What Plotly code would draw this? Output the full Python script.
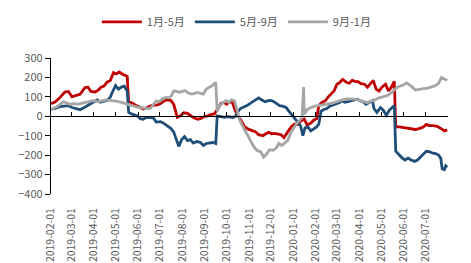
import pandas as pd
import plotly.graph_objects as go

START = "2019-02-01"

# Day offsets from 2019-02-01 and values
red_days = [0, 6, 12, 19, 24, 29, 35, 40, 47, 51, 55, 61, 65, 69, 73, 77, 82, 86, 90, 94, 98, 102, 105, 107,
            111, 118, 123, 127, 133, 137, 142, 147, 151, 155, 160, 165, 169, 171, 174, 178, 183, 188, 192, 196,
            202, 206, 212, 216, 221, 225, 230, 234, 238, 242, 246, 250, 254, 259, 263, 267, 272, 277, 282, 286,
            292, 296, 300, 304, 308, 313, 317, 321, 325, 328, 332, 336, 340, 344, 349, 353, 358, 362, 366, 369,
            373, 378, 382, 386, 390, 394, 398, 402, 407, 411, 415, 419, 423, 427, 432, 436, 440, 444, 448, 452,
            456, 461, 465, 469, 473, 475, 480, 485, 491, 496, 502, 508, 513, 517, 521, 527, 532, 538, 542, 546]
red_vals = [65, 75, 95, 125, 128, 100, 108, 113, 148, 150, 128, 125, 135, 150, 155, 175, 185, 225, 218, 228, 218, 210, 205, 75,
            70, 54, 45, 37, 45, 54, 58, 59, 65, 78, 85, 82, 62, 40, -5, 2, 18, 15, 3, -6,
            -15, -12, 0, 2, 10, 12, 40, 65, 72, 62, 75, 70, 28, -6, -30, -55, -66, -75, -80, -95,
            -100, -90, -82, -90, -88, -92, -95, -110, -85, -70, -50, -40, -42, -25, -15, -45, -35, -20, -12, 55,
            70, 80, 100, 115, 130, 165, 175, 190, 175, 170, 185, 180, 178, 168, 165, 150, 165, 185, 140, 130,
            150, 165, 130, 150, 180, -55, -55, -58, -60, -65, -68, -62, -55, -42, -48, -48, -52, -65, -75, -70]

blue_days = [0, 6, 12, 19, 24, 29, 35, 40, 46, 50, 55, 59, 64, 68, 73, 77, 82, 84, 89, 93, 97, 101, 105, 107,
             111, 115, 119, 123, 127, 131, 137, 141, 145, 151, 155, 160, 165, 169, 171, 174, 176, 180, 184, 188,
             192, 196, 201, 206, 210, 214, 219, 223, 227, 229, 234, 239, 245, 250, 254, 257, 261, 266, 270, 274,
             278, 282, 286, 290, 295, 299, 303, 307, 311, 315, 319, 324, 328, 332, 336, 340, 344, 347, 350, 354,
             358, 362, 366, 369, 372, 376, 380, 384, 389, 393, 397, 401, 405, 409, 414, 418, 422, 426, 430, 434,
             438, 443, 445, 449, 454, 458, 462, 466, 470, 473, 475, 480, 484, 488, 492, 496, 501, 505, 509, 513,
             517, 521, 526, 530, 534, 537, 539, 542, 544, 546]
blue_vals = [35, 40, 50, 55, 55, 45, 38, 34, 45, 55, 65, 75, 84, 72, 78, 80, 100, 120, 158, 140, 150, 155, 130, 20,
             12, 8, 2, -12, -15, -6, -6, -8, -30, -28, -35, -50, -62, -80, -100, -125, -155, -120, -105, -125,
             -120, -138, -130, -135, -150, -140, -138, -135, -140, 2, -2, -5, -2, -6, -2, 20, 40, 48, 55, 65,
             75, 85, 95, 85, 75, 80, 82, 75, 65, 55, 52, 45, 25, 8, -10, -30, -50, -100, -60, -55,
             -75, -65, -55, -40, 25, 35, 40, 52, 58, 62, 70, 80, 72, 75, 80, 85, 88, 80, 75, 62,
             70, 80, 40, 20, 45, 30, 5, 30, 45, 55, -180, -200, -215, -225, -215, -225, -232, -225, -210, -195,
             -180, -182, -190, -192, -200, -215, -270, -275, -255, -262]

gray_days = [0, 6, 12, 17, 21, 26, 32, 37, 43, 48, 54, 59, 65, 71, 76, 82, 87, 93, 98, 104, 109, 115, 120, 126,
             131, 137, 141, 145, 149, 154, 158, 162, 166, 169, 173, 177, 181, 185, 189, 194, 198, 202, 206, 210,
             214, 219, 223, 227, 229, 232, 236, 241, 245, 249, 253, 256, 260, 264, 268, 272, 277, 281, 285, 289,
             293, 297, 301, 306, 310, 314, 318, 322, 326, 331, 335, 339, 343, 346, 348, 349, 353, 358, 364, 369,
             375, 380, 386, 391, 397, 402, 408, 414, 419, 425, 430, 436, 441, 447, 452, 458, 463, 469, 474, 480,
             485, 490, 494, 498, 502, 508, 513, 519, 524, 530, 534, 538, 542, 546]
gray_vals = [35, 45, 60, 75, 70, 62, 65, 62, 68, 72, 78, 80, 75, 82, 84, 82, 80, 75, 70, 63, 55, 52, 46, 45,
             40, 42, 60, 78, 75, 90, 97, 95, 105, 130, 128, 123, 128, 132, 120, 114, 118, 123, 118, 114,
             140, 150, 160, 175, 25, 55, 68, 80, 72, 85, 80, 35, -20, -50, -75, -105, -140, -165, -178, -182,
             -210, -195, -172, -175, -165, -140, -150, -135, -125, -80, -55, -35, -20, -5, 150, 10, 35, 45, 52, 55,
             56, 62, 66, 72, 80, 85, 90, 90, 88, 82, 75, 70, 78, 85, 95, 100, 106, 120, 140, 155,
             160, 172, 162, 150, 135, 140, 142, 145, 150, 158, 170, 200, 192, 185]

series_names = ["1月-5月", "5月-9月", "9月-1月"]
series_colors = ["#C00000", "#1F4E79", "#A5A5A5"]
y_ticks = [-400, -300, -200, -100, 0, 100, 200, 300]
x_ticks = pd.date_range("2019-02-01", "2020-07-01", freq="MS")


def to_dates(days):
    return pd.Timestamp(START) + pd.to_timedelta(days, unit="D")


fig = go.Figure()
# gray drawn first (behind); legend order set by legendrank
for name, color, days, vals, xa, rank in [
    (series_names[2], series_colors[2], gray_days, gray_vals, "x2", 3),
    (series_names[0], series_colors[0], red_days, red_vals, "x", 1),
    (series_names[1], series_colors[1], blue_days, blue_vals, "x", 2),
]:
    fig.add_trace(go.Scatter(x=to_dates(days), y=vals, name=name, mode="lines",
                             line=dict(color=color, width=2.8), xaxis=xa, legendrank=rank))

x_range = ["2019-02-01", "2020-08-01"]
tick_font = dict(family="Noto Sans CJK SC, Noto Sans, sans-serif", size=10.5, color="#595959")

fig.update_layout(
    width=471, height=263,
    margin=dict(l=51, r=23, t=58, b=69, autoexpand=False),
    paper_bgcolor="white", plot_bgcolor="white",
    showlegend=True,
    legend=dict(orientation="h", x=0.468, xanchor="center", y=1.265, yanchor="middle",
                font=dict(family="Noto Sans CJK SC, sans-serif", size=11, color="#595959"),
                itemwidth=40, traceorder="normal"),
    xaxis=dict(type="date", range=x_range, tickvals=x_ticks,
               tickformat="%Y-%m-%d", tickangle=-90, tickfont=tick_font, automargin=False,
               showgrid=False, zeroline=False, showline=False,
               ticks="outside", ticklen=9, tickcolor="rgba(0,0,0,0)"),
    xaxis2=dict(type="date", range=x_range, tickvals=x_ticks, automargin=False,
                overlaying="x", anchor="free", position=4 / 7, side="bottom",
                showticklabels=False, showgrid=False, zeroline=False,
                showline=True, linecolor="black", linewidth=1.2,
                ticks="inside", ticklen=4, tickcolor="black", tickwidth=1.2),
    yaxis=dict(range=[-400, 300], tickvals=y_ticks, automargin=False, tickfont=dict(
                   family="Noto Sans CJK SC, Noto Sans, sans-serif", size=11, color="#595959"),
               showgrid=False, zeroline=False, showline=True, linecolor="black", linewidth=1.2,
               ticks="outside", ticklen=5, tickcolor="black", tickwidth=1.2),
)

fig.write_html("out.html")
